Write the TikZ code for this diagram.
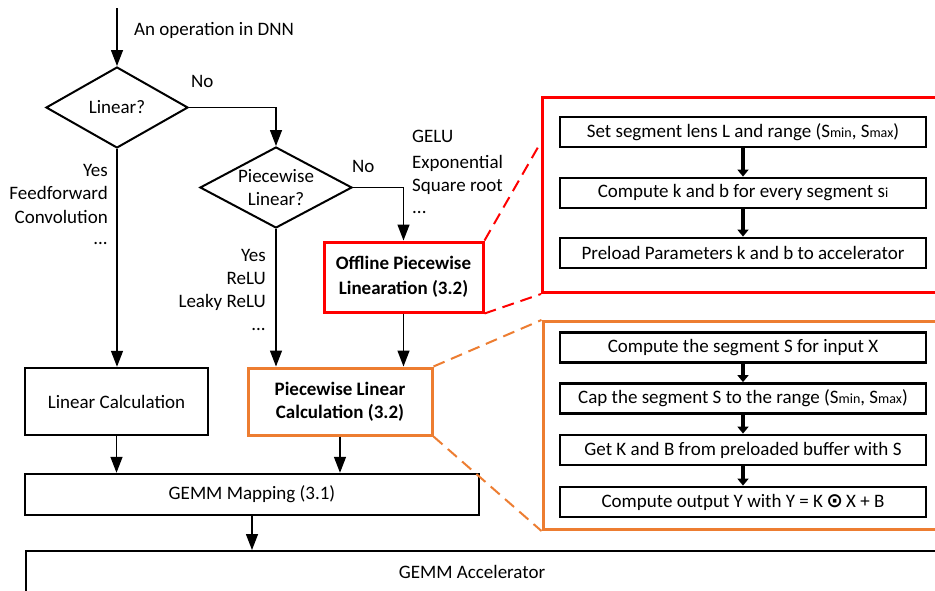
\documentclass[tikz,border=0pt]{standalone}
\usepackage{fontspec}
\setmainfont{Carlito}
\newfontfamily\dvs{DejaVu Sans}
\usetikzlibrary{arrows.meta,shapes.geometric}
\definecolor{myorange}{HTML}{ED7D31}
\newcommand{\sml}[1]{{\fontsize{14}{14}\selectfont #1}}
\begin{document}
\begin{tikzpicture}[x=1pt,y=-1pt,
  font=\fontsize{19}{23}\selectfont,
  arr/.style={-{Triangle[length=16pt,width=12pt]}, line width=1.4pt},
  dia/.style={diamond, draw, line width=2pt, inner sep=0pt, align=center, shape aspect=1.8},
  box/.style={draw, line width=2.4pt, align=center, inner sep=0pt},
  ibox/.style={draw, line width=2.8pt, minimum width=366pt, minimum height=30pt, inner sep=0pt, font=\fontsize{19}{23}\selectfont},
  iarr/.style={-{Triangle[length=7pt,width=11pt]}, line width=4.5pt},
  dsh/.style={dash pattern=on 12pt off 7pt, line width=2pt},
  lbl/.style={anchor=base east, inner sep=0pt},
  lblw/.style={anchor=base west, inner sep=0pt}]
\clip (0,0) rectangle (935,590);
\fill[white] (0,0) rectangle (935,590);

% left flowchart
\coordinate (top) at (117,8);
\node[dia, minimum width=142pt, minimum height=81pt] (d1) at (117,107.5) {Linear?};
\draw[arr] (top) -- (d1.north);
\node[lblw] (t0) at (134,35) {An operation in DNN};
\node[lblw] (no1) at (191,87) {No};
\node[dia, minimum width=152pt, minimum height=81pt] (d2) at (276,187.5) {Piecewise\\Linear?};
\draw[arr] (d1.east) -| (d2.north);
\node[lblw] (no2) at (352,172) {No};

\node[box, draw=red, line width=3pt, minimum width=159pt, minimum height=70pt, font=\fontsize{19}{25}\selectfont\bfseries] (olin) at (403.5,277) {Offline Piecewise\\Linearation (3.2)};
\draw[arr] (d2.east) -| (olin.north);

\node[lblw] (g1) at (412,142.5) {GELU};
\node[lblw] (g2) at (412,168) {Exponential};
\node[lblw] (g3) at (412,191) {Square root};
\node[lblw] (g4) at (412,213) {...};

\node[lbl] (y1) at (108,176) {Yes};
\node[lbl] (y2) at (108,199.5) {Feedforward};
\node[lbl] (y3) at (108,223) {Convolution};
\node[lbl] (y4) at (108,244) {...};

\node[lbl] (r1) at (266,261) {Yes};
\node[lbl] (r2) at (266,284) {ReLU};
\node[lbl] (r3) at (266,307) {Leaky ReLU};
\node[lbl] (r4) at (266,330) {...};

\node[box, minimum width=183pt, minimum height=67pt] (lc) at (116.5,401.5) {Linear Calculation};
\node[box, draw=myorange, line width=3pt, minimum width=184pt, minimum height=67pt, font=\fontsize{19}{23}\selectfont\bfseries] (plc) at (340,401.5) {Piecewise Linear\\Calculation (3.2)};
\draw[arr] (d1.south) -- (d1.south |- lc.north);
\draw[arr] (d2.south) -- (d2.south |- plc.north);
\draw[arr] (olin.south) -- (olin.south |- plc.north);

\node[box, minimum width=454pt, minimum height=41pt] (gm) at (252,494.5) {GEMM Mapping (3.1)};
\draw[arr] (lc.south) -- (lc.south |- gm.north);
\draw[arr] (plc.south) -- (plc.south |- gm.north);

\node[box, anchor=north west, minimum width=940pt, minimum height=60pt] (ga) at (25,550) {};
\node (gat) at (472,572) {GEMM Accelerator};
\draw[arr] (gm.south) -- (gm.south |- ga.north);

% red detail
\node[draw=red, line width=3pt, anchor=north west, minimum width=420pt, minimum height=195pt, inner sep=0pt] (rbig) at (541,96) {};
\node[ibox] (a1) at (743,132) {Set segment lens L and range (S\sml{min}, S\sml{max})};
\node[ibox] (a2) at (743,193) {Compute k and b for every segment s\sml{i}};
\node[ibox] (a3) at (743,253) {Preload Parameters k and b to accelerator};
\draw[iarr] (a1.south) -- (a2.north);
\draw[iarr] (a2.south) -- (a3.north);

% orange detail
\node[draw=myorange, line width=3pt, anchor=north west, minimum width=420pt, minimum height=208pt, inner sep=0pt] (obig) at (541.5,320) {};
\node[ibox] (b1) at (743,347.5) {Compute the segment S for input X};
\node[ibox] (b2) at (743,398.5) {Cap the segment S to the range (S\sml{min}, S\sml{max})};
\node[ibox] (b3) at (743,450) {Get K and B from preloaded buffer with S};
\node[ibox] (b4) at (743,502) {Compute output Y with Y = K\,{\dvs\bfseries\fontsize{20}{20}\selectfont ⊙}\,X + B};
\draw[iarr] (b1.south) -- (b2.north);
\draw[iarr] (b2.south) -- (b3.north);
\draw[iarr] (b3.south) -- (b4.north);

% dashed connectors
\coordinate (rtip) at (541,142);
\draw[red, dsh] (olin.north east) -- (rtip);
\draw[red, dsh] (olin.south east) -- (rbig.south west);
\draw[myorange, dsh] (plc.north east) -- (obig.north west);
\draw[myorange, dsh] (plc.south east) -- (obig.south west);
\end{tikzpicture}
\end{document}
